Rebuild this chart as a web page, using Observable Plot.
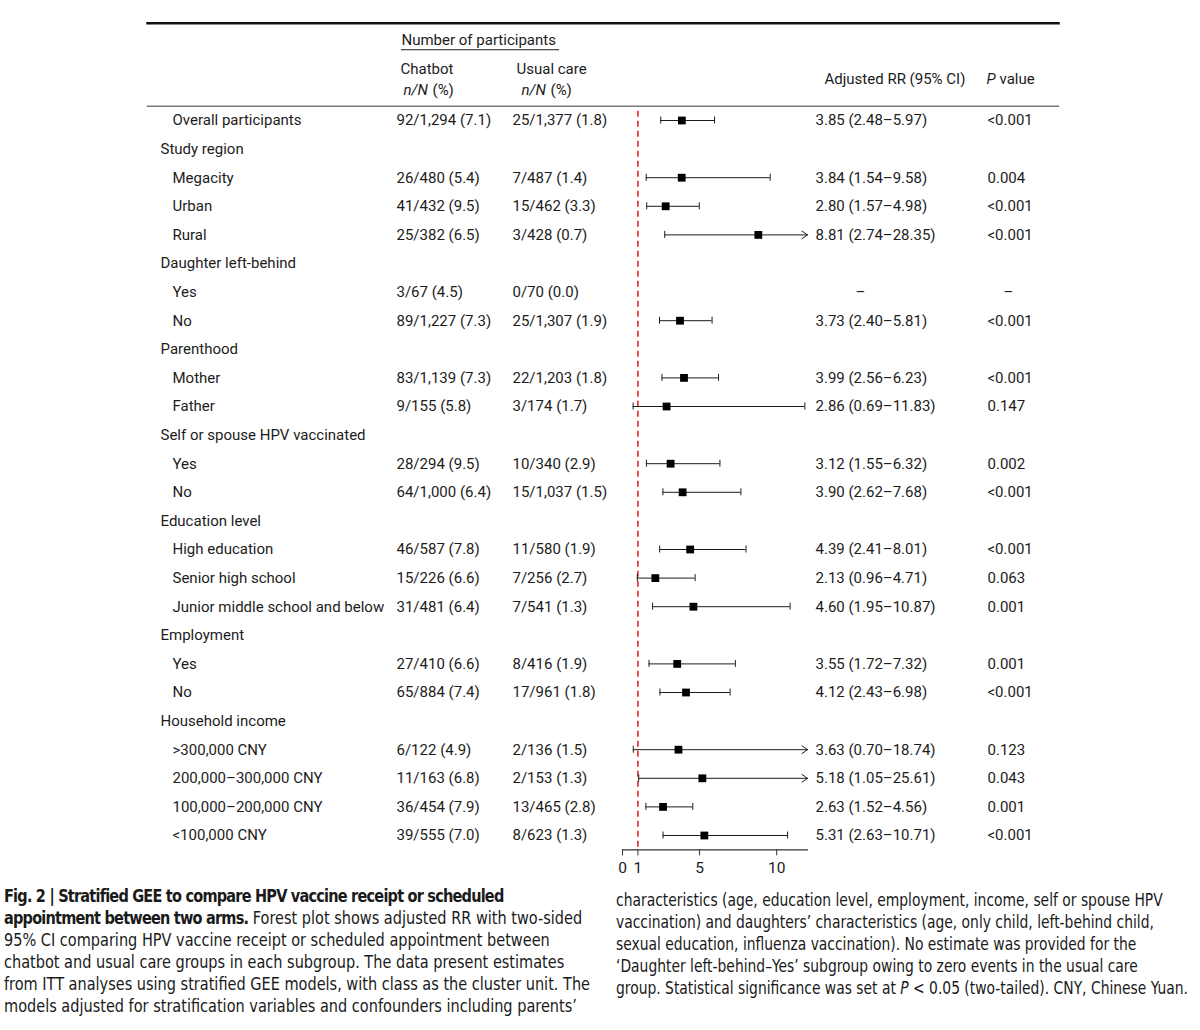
<!DOCTYPE html>
<html>
<head>
<meta charset="utf-8">
<script src="https://cdn.jsdelivr.net/npm/d3@7"></script>
<script src="https://cdn.jsdelivr.net/npm/@observablehq/plot@0.6"></script>
<style>
  body { margin: 0; background: #fff; width: 1200px; height: 1030px; overflow: hidden; position: relative; }
  #chart { position: absolute; left: 0; top: 0; }
  .cap { position: absolute; font-family: "DejaVu Sans Condensed", "Liberation Sans Narrow", sans-serif; font-stretch: condensed; font-size: 17px; line-height: 22px; color: #1a1a1a; white-space: nowrap; transform-origin: 0 0; }
  .cap div { height: 22px; }
  .cap span { display: inline-block; }
</style>
</head>
<body>
<div id="chart"></div>
<div class="cap" id="capL" style="left:4px; top:885px;"></div>
<div class="cap" id="capR" style="left:616px; top:889px;"></div>
<script>
// ---- data ----
const rowLabels = [
  "Overall participants", "Study region", "Megacity", "Urban", "Rural",
  "Daughter left-behind", "Yes", "No", "Parenthood", "Mother", "Father",
  "Self or spouse HPV vaccinated", "Yes", "No", "Education level",
  "High education", "Senior high school", "Junior middle school and below",
  "Employment", "Yes", "No", "Household income",
  ">300,000 CNY", "200,000–300,000 CNY", "100,000–200,000 CNY", "<100,000 CNY"
];
// 0 = category heading, 1 = subgroup row
const rowLevel = [1,0,1,1,1,0,1,1,0,1,1,0,1,1,0,1,1,1,0,1,1,0,1,1,1,1];
const chatbotN = [
  "92/1,294 (7.1)", null, "26/480 (5.4)", "41/432 (9.5)", "25/382 (6.5)",
  null, "3/67 (4.5)", "89/1,227 (7.3)", null, "83/1,139 (7.3)", "9/155 (5.8)",
  null, "28/294 (9.5)", "64/1,000 (6.4)", null,
  "46/587 (7.8)", "15/226 (6.6)", "31/481 (6.4)",
  null, "27/410 (6.6)", "65/884 (7.4)", null,
  "6/122 (4.9)", "11/163 (6.8)", "36/454 (7.9)", "39/555 (7.0)"
];
const usualN = [
  "25/1,377 (1.8)", null, "7/487 (1.4)", "15/462 (3.3)", "3/428 (0.7)",
  null, "0/70 (0.0)", "25/1,307 (1.9)", null, "22/1,203 (1.8)", "3/174 (1.7)",
  null, "10/340 (2.9)", "15/1,037 (1.5)", null,
  "11/580 (1.9)", "7/256 (2.7)", "7/541 (1.3)",
  null, "8/416 (1.9)", "17/961 (1.8)", null,
  "2/136 (1.5)", "2/153 (1.3)", "13/465 (2.8)", "8/623 (1.3)"
];
const rrEst  = [3.85, null, 3.84, 2.80, 8.81, null, null, 3.73, null, 3.99, 2.86, null, 3.12, 3.90, null, 4.39, 2.13, 4.60, null, 3.55, 4.12, null, 3.63, 5.18, 2.63, 5.31];
const rrLow  = [2.48, null, 1.54, 1.57, 2.74, null, null, 2.40, null, 2.56, 0.69, null, 1.55, 2.62, null, 2.41, 0.96, 1.95, null, 1.72, 2.43, null, 0.70, 1.05, 1.52, 2.63];
const rrHigh = [5.97, null, 9.58, 4.98, 28.35, null, null, 5.81, null, 6.23, 11.83, null, 6.32, 7.68, null, 8.01, 4.71, 10.87, null, 7.32, 6.98, null, 18.74, 25.61, 4.56, 10.71];
const pValues = [
  "<0.001", null, "0.004", "<0.001", "<0.001", null, "–", "<0.001", null, "<0.001", "0.147",
  null, "0.002", "<0.001", null, "<0.001", "0.063", "0.001", null, "0.001", "<0.001", null,
  "0.123", "0.043", "0.001", "<0.001"
];
const xTicks = [0, 1, 5, 10];
const xDomain = [0, 12];
const nullLine = [1];
const headerTexts = {
  group: "Number of participants",
  chatbot: "Chatbot",
  usual: "Usual care",
  nN: "n/N",
  pct: "(%)",
  rr: "Adjusted RR (95% CI)",
  pItalic: "P",
  pRest: "value"
};
const captionLeft = [
  "<b>Fig. 2 | Stratified GEE to compare HPV vaccine receipt or scheduled</b>",
  "<b>appointment between two arms.</b> Forest plot shows adjusted RR with two-sided",
  "95% CI comparing HPV vaccine receipt or scheduled appointment between",
  "chatbot and usual care groups in each subgroup. The data present estimates",
  "from ITT analyses using stratified GEE models, with class as the cluster unit. The",
  "models adjusted for stratification variables and confounders including parents’"
];
const captionRight = [
  "characteristics (age, education level, employment, income, self or spouse HPV",
  "vaccination) and daughters’ characteristics (age, only child, left-behind child,",
  "sexual education, influenza vaccination). No estimate was provided for the",
  "‘Daughter left-behind–Yes’ subgroup owing to zero events in the usual care",
  "group. Statistical significance was set at <i>P</i> &lt; 0.05 (two-tailed). CNY, Chinese Yuan."
];

// ---- table ----
const fmt = v => v.toFixed(2);
const rows = rowLabels.map((label, i) => ({
  i, label, level: rowLevel[i], chatbot: chatbotN[i], usual: usualN[i],
  rr: rrEst[i], lo: rrLow[i], hi: rrHigh[i], p: pValues[i],
  rrText: rrEst[i] == null ? null : `${fmt(rrEst[i])} (${fmt(rrLow[i])}–${fmt(rrHigh[i])})`
}));
const est = rows.filter(d => d.rr != null);
const inRange = est.filter(d => d.hi <= xDomain[1]);
const clipped = est.filter(d => d.hi > xDomain[1]);
const noEst = rows.filter(d => d.level === 1 && d.rr == null);

const ink = "#1c1c1c";
const W = 1200, H = 880, ML = 622, MR = 393, MT = 105.7, MB = 30.7;
const px = v => v - ML; // horizontal offset relative to the plot's left edge
const hdr = (text, x, y, extra = {}) =>
  Plot.text([text], { text: d => d, frameAnchor: "top-left", lineAnchor: "middle", dx: px(x), dy: y - MT, textAnchor: "start", fill: ink, ...extra });

const plot = Plot.plot({
  width: W, height: H,
  marginLeft: ML, marginRight: MR, marginTop: MT, marginBottom: MB,
  style: { fontFamily: "Roboto, sans-serif", fontSize: "15px", color: ink, background: "#fff" },
  x: { domain: xDomain },
  y: { type: "band", domain: d3.range(rowLabels.length), padding: 0, round: false, axis: null },
  marks: [
    // table rules
    Plot.frame({ anchor: "top", insetLeft: px(147), insetRight: -(1058 - (W - MR)), insetTop: 22.7 - MT, stroke: "#111", strokeWidth: 2.5 }),
    Plot.frame({ anchor: "top", insetLeft: px(147), insetRight: -(1058 - (W - MR)), stroke: "#7a7a7a", strokeWidth: 1.4 }),
    Plot.frame({ anchor: "top", insetLeft: px(401), insetRight: (W - MR) - 558, insetTop: 49.3 - MT, stroke: ink, strokeWidth: 1.1 }),
    // header
    hdr(headerTexts.group, 401, 40),
    hdr(headerTexts.chatbot, 400, 68.5),
    hdr(headerTexts.usual, 516, 68.5),
    hdr(headerTexts.nN, 403, 90, { fontStyle: "italic" }),
    hdr(headerTexts.pct, 432, 90),
    hdr(headerTexts.nN, 521, 90, { fontStyle: "italic" }),
    hdr(headerTexts.pct, 550, 90),
    hdr(headerTexts.rr, 824, 79),
    hdr(headerTexts.pItalic, 986, 79, { fontStyle: "italic" }),
    hdr(headerTexts.pRest, 999, 79),
    // row labels and columns
    Plot.text(rows.filter(d => d.level === 0), { y: "i", text: "label", frameAnchor: "left", dx: px(160), textAnchor: "start", fill: ink }),
    Plot.text(rows.filter(d => d.level === 1), { y: "i", text: "label", frameAnchor: "left", dx: px(172), textAnchor: "start", fill: ink }),
    Plot.text(rows.filter(d => d.chatbot), { y: "i", text: "chatbot", frameAnchor: "left", dx: px(396), textAnchor: "start", fill: ink }),
    Plot.text(rows.filter(d => d.usual), { y: "i", text: "usual", frameAnchor: "left", dx: px(512), textAnchor: "start", fill: ink }),
    Plot.text(est, { y: "i", text: "rrText", frameAnchor: "left", dx: px(815), textAnchor: "start", fill: ink }),
    Plot.text(rows.filter(d => d.p && d.rr != null), { y: "i", text: "p", frameAnchor: "left", dx: px(987), textAnchor: "start", fill: ink }),
    Plot.text(noEst, { y: "i", text: d => "–", frameAnchor: "left", dx: px(860), textAnchor: "middle", fill: ink }),
    Plot.text(noEst, { y: "i", text: "p", frameAnchor: "left", dx: px(1008), textAnchor: "middle", fill: ink }),
    // forest
    Plot.ruleX(nullLine, { stroke: "#e3262b", strokeWidth: 1.6, strokeDasharray: "6,4", insetTop: 5 }),
    Plot.ruleY(inRange, { y: "i", x1: "lo", x2: "hi", stroke: ink, strokeWidth: 1 }),
    Plot.arrow(clipped, { y1: "i", y2: "i", x1: "lo", x2: () => xDomain[1], stroke: ink, strokeWidth: 1, headLength: 10, headAngle: 70 }),
    Plot.tickX(est, { x: "lo", y: "i", insetTop: 10.8, insetBottom: 10.8, stroke: ink, strokeWidth: 1 }),
    Plot.tickX(inRange, { x: "hi", y: "i", insetTop: 10.8, insetBottom: 10.8, stroke: ink, strokeWidth: 1 }),
    Plot.dot(est, { x: "rr", y: "i", symbol: "square", fill: "#000", r: 4.4 }),
    // axis
    Plot.frame({ anchor: "bottom", stroke: "#333", strokeWidth: 1.2 }),
    Plot.axisX({ ticks: xTicks, tickSize: 6, tickPadding: 6, anchor: "bottom", fontSize: 15.5, stroke: "#333", fill: ink, label: null })
  ]
});
document.getElementById("chart").appendChild(plot);

// caption: two columns, each compressed horizontally to the reference column width
function fillCaption(id, lines, refLine, targetWidth) {
  const el = document.getElementById(id);
  el.innerHTML = lines.map(l => `<div><span>${l}</span></div>`).join("");
  const w = el.querySelectorAll("span")[refLine].getBoundingClientRect().width;
  const s = targetWidth / w;
  el.style.transform = `scaleX(${s})`;
  return s;
}
const sL = fillCaption("capL", captionLeft, 4, 586);
fillCaption("capR", captionRight, 4, 572);
// the bold run-in heading is set tighter in the reference: fit its first line to the reference width
const boldFirst = document.querySelector("#capL b");
const bw = boldFirst.getBoundingClientRect().width;
const nChars = boldFirst.textContent.length;
const ls = (499 - bw) / sL / nChars;
document.querySelectorAll("#capL b").forEach(b => b.style.letterSpacing = ls + "px");
</script>
</body>
</html>
